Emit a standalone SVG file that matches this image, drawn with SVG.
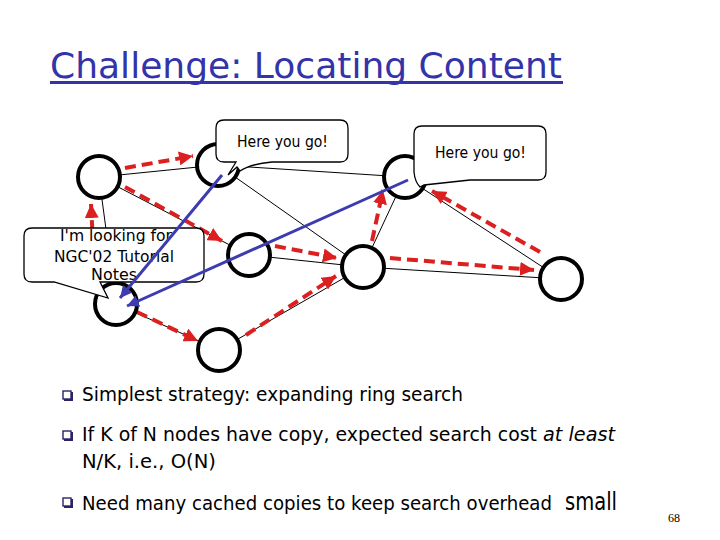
<svg xmlns="http://www.w3.org/2000/svg" width="720" height="540" viewBox="0 0 720 540">
<style>
.edge{stroke:#000;stroke-width:1;fill:none}
.red{stroke:#dc1f1f;stroke-width:4;stroke-dasharray:11 6;fill:none;marker-end:url(#rh)}
.blue{stroke:#3c3cb0;stroke-width:3;fill:none;marker-end:url(#bh)}
.node{fill:#fff;stroke:#000;stroke-width:4}
.call{fill:#fff;stroke:#000;stroke-width:1.3}
.ct{font-family:"DejaVu Sans",sans-serif;font-size:15px;fill:#000}
.bt{font-family:"DejaVu Sans",sans-serif;font-size:19px;fill:#000}
.bul{fill:none;stroke:#2e2266;stroke-width:1.4}
</style>
<defs>
<marker id="rh" markerUnits="userSpaceOnUse" markerWidth="14" markerHeight="14" refX="10" refY="5" orient="auto" viewBox="0 0 10 10">
<path d="M0,0 L10,5 L0,10 Z" fill="#dc1f1f"/>
</marker>
<marker id="bh" markerUnits="userSpaceOnUse" markerWidth="12" markerHeight="12" refX="10" refY="5" orient="auto" viewBox="0 0 10 10">
<path d="M0,0 L10,5 L0,10 Z" fill="#3c3cb0"/>
</marker>
</defs>
<rect width="720" height="540" fill="#fff"/>
<g id="title">
<text x="50" y="78" font-family="DejaVu Sans, sans-serif" font-size="36" fill="#3333aa" textLength="512" lengthAdjust="spacingAndGlyphs">Challenge: Locating Content</text>
<rect x="50" y="81" width="513" height="3" fill="#3333aa"/>
</g>
<g id="connectors">
<line class="edge" x1="99" y1="177" x2="218" y2="165"/>
<line class="edge" x1="99" y1="177" x2="249" y2="255"/>
<line class="edge" x1="99" y1="177" x2="116" y2="304"/>
<line class="edge" x1="218" y1="165" x2="405" y2="177"/>
<line class="edge" x1="218" y1="165" x2="363" y2="267"/>
<line class="edge" x1="405" y1="177" x2="363" y2="267"/>
<line class="edge" x1="405" y1="177" x2="561" y2="279"/>
<line class="edge" x1="249" y1="255" x2="363" y2="267"/>
<line class="edge" x1="363" y1="267" x2="561" y2="279"/>
<line class="edge" x1="116" y1="304" x2="219" y2="350"/>
<line class="edge" x1="219" y1="350" x2="363" y2="267"/>
<path class="red" d="M125,168 L193,156"/>
<path class="red" d="M125,187 L222,241"/>
<path class="red" d="M95,282 L91,204"/>
<path class="red" d="M275,246 L337,258"/>
<path class="red" d="M372,241 L383,190"/>
<path class="red" d="M390,258 L534,270"/>
<path class="red" d="M540,252 L432,191"/>
<path class="red" d="M137,312 L198,341"/>
<path class="red" d="M246,335 L336,276"/>
</g>
<g id="nodeA"><circle class="node" cx="99" cy="177" r="21"/></g>
<g id="nodeB"><circle class="node" cx="218" cy="165" r="21"/></g>
<g id="nodeC"><circle class="node" cx="405" cy="177" r="21"/></g>
<g id="nodeD"><circle class="node" cx="249" cy="255" r="21"/></g>
<g id="nodeE"><circle class="node" cx="363" cy="267" r="21"/></g>
<g id="nodeF"><circle class="node" cx="561" cy="279" r="21"/></g>
<g id="nodeG"><circle class="node" cx="116" cy="304" r="21"/></g>
<g id="nodeH"><circle class="node" cx="219" cy="350" r="21"/></g>
<g id="callout1">
<path class="call" d="M224,120 H340 Q348,120 348,128 V154 Q348,162 340,162 H272 Q250,164 240,171 L237,167 L228,175 L236,162 H224 Q216,162 216,154 V128 Q216,120 224,120 Z"/>
<text class="ct" x="237" y="147" textLength="91" lengthAdjust="spacingAndGlyphs">Here you go!</text>
</g>
<g id="callout2">
<path class="call" d="M422,126 H538 Q546,126 546,134 V172 Q546,180 538,180 H470 L424,185 L420,187 Q415,182 414,172 V134 Q414,126 422,126 Z"/>
<text class="ct" x="435" y="158" textLength="91" lengthAdjust="spacingAndGlyphs">Here you go!</text>
</g>
<g id="callout3">
<path class="call" d="M32,228 H196 Q204,228 204,236 V274 Q204,282 196,282 H100 L108,298 L54,282 H32 Q24,282 24,274 V236 Q24,228 32,228 Z"/>
<text class="ct" x="60" y="241" textLength="112" lengthAdjust="spacingAndGlyphs">I'm looking for</text>
<text class="ct" x="54" y="262" textLength="120" lengthAdjust="spacingAndGlyphs">NGC'02 Tutorial</text>
<text class="ct" x="91" y="280" textLength="46" lengthAdjust="spacingAndGlyphs">Notes</text>
</g>
<g id="queries">
<path class="blue" d="M222,175 L120,298"/>
<path class="blue" d="M408,180 L127,306"/>
</g>
<g id="bullets">
<rect class="bul" x="63" y="391" width="8" height="8"/><path d="M72,392 V400 H64" stroke="#2e2266" stroke-width="2" fill="none"/>
<rect class="bul" x="63" y="431" width="8" height="8"/><path d="M72,432 V440 H64" stroke="#2e2266" stroke-width="2" fill="none"/>
<rect class="bul" x="63" y="498" width="8" height="8"/><path d="M72,499 V507 H64" stroke="#2e2266" stroke-width="2" fill="none"/>
<text class="bt" x="82" y="401" textLength="381" lengthAdjust="spacingAndGlyphs">Simplest strategy: expanding ring search</text>
<text class="bt" y="441"><tspan x="82" textLength="455" lengthAdjust="spacingAndGlyphs">If K of N nodes have copy, expected search cost</tspan><tspan x="543" font-style="italic" textLength="72" lengthAdjust="spacingAndGlyphs">at least</tspan></text>
<text class="bt" x="82" y="468" textLength="134" lengthAdjust="spacingAndGlyphs">N/K, i.e., O(N)</text>
<text class="bt" y="510"><tspan x="82" textLength="470" lengthAdjust="spacingAndGlyphs">Need many cached copies to keep search overhead</tspan><tspan x="565" font-size="25" textLength="52" lengthAdjust="spacingAndGlyphs">small</tspan></text>
<text x="668" y="522" font-family="Liberation Serif, serif" font-size="12" fill="#000">68</text>
</g>
</svg>
